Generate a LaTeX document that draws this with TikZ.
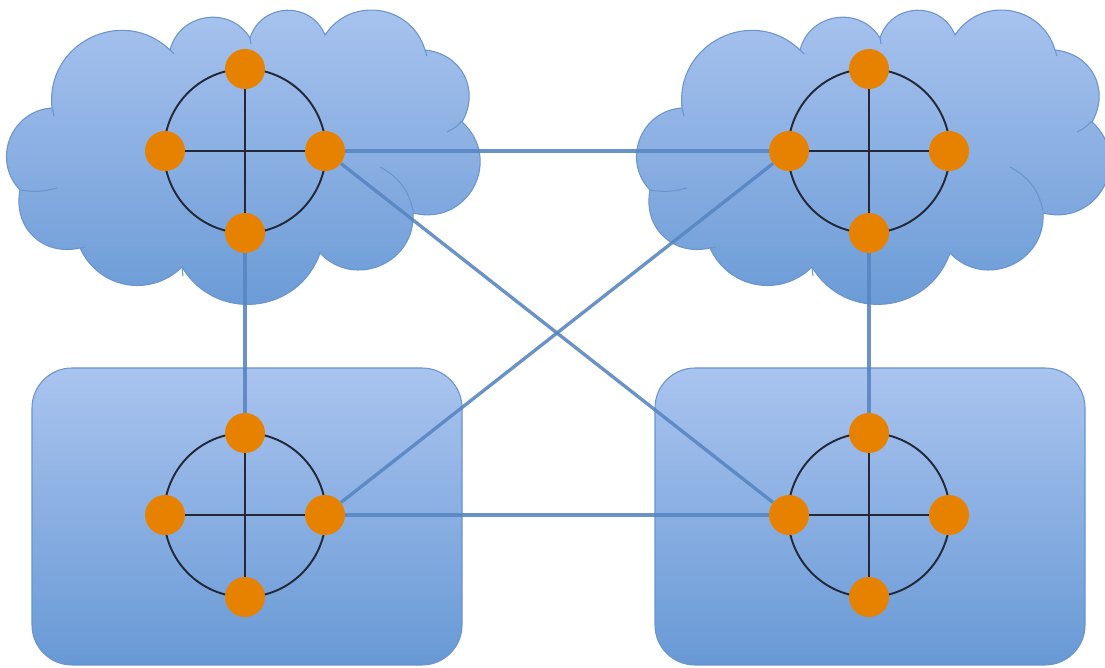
\documentclass[tikz,border=0pt]{standalone}
\pgfdeclarelayer{bg}\pgfdeclarelayer{mid}
\pgfsetlayers{bg,mid,main}
\definecolor{fillTop}{RGB}{170,196,239}
\definecolor{fillBot}{RGB}{104,153,213}
\definecolor{edgeBlue}{RGB}{105,148,206}
\definecolor{linkBlue}{RGB}{88,134,194}
\definecolor{dotOrange}{RGB}{230,130,0}
\definecolor{ringGray}{RGB}{35,40,55}
\tikzset{
  area/.style={draw=edgeBlue, line width=0.6pt, top color=fillTop, bottom color=fillBot},
  crease/.style={draw=edgeBlue, line width=0.6pt},
  dotnode/.style={circle, fill=dotOrange, inner sep=0pt, minimum size=0.8cm},
  ringline/.style={draw=ringGray, line width=1.1pt},
  link/.style={draw=linkBlue, line width=1.9pt, opacity=0.9},
  cloudpic/.pic={
    \path[area] (52,108) to[bend left=70,looseness=1.27] (170,50)
      to[bend left=67,looseness=1.22] (250,38)
      to[bend left=70,looseness=1.27] (325,35)
      to[bend left=65,looseness=1.2] (425,50)
      to[bend left=57,looseness=1.17] (462,122)
      to[bend left=76,looseness=1.4] (413,213)
      to[bend left=70,looseness=1.27] (320,253)
      to[bend left=65,looseness=1.2] (182,267)
      to[bend left=55,looseness=1.1] (80,248)
      to[bend left=57,looseness=1.17] (20,190)
      to[bend left=65,looseness=1.2] (52,108) -- cycle;
    \draw[crease] (20,190) to[bend right=12] (57,188);
    \draw[crease] (413,211) to[bend right=25] (380,167);
    \draw[crease] (462,121) to[bend left=10] (447,132);
    \draw[crease] (170,50) -- (174,54);
    \draw[crease] (250,38) -- (251,44);
    \draw[crease] (425,50) -- (427,56);
    \draw[crease] (52,108) -- (54,116);
    \draw[crease] (182,267) -- (183,276);
    \draw[crease] (80,248) -- (86,247);
  }
}
\newcommand{\hubcluster}[3]{%
  \node[dotnode] (#1t) at (#2,#3-82) {};
  \node[dotnode] (#1b) at (#2,#3+82) {};
  \node[dotnode] (#1l) at (#2-80,#3) {};
  \node[dotnode] (#1r) at (#2+80,#3) {};
  \begin{pgfonlayer}{mid}
    \draw[ringline] (#2,#3) ellipse [x radius=1.62cm, y radius=1.64cm];
    \draw[ringline] (#1t) -- (#1b);
    \draw[ringline] (#1l) -- (#1r);
  \end{pgfonlayer}}
\begin{document}
\begin{tikzpicture}[x=0.02cm,y=-0.02cm]
\useasboundingbox (0,0) rectangle (1105,668);
\begin{pgfonlayer}{bg}
  \pic at (0,0) {cloudpic};
  \pic at (630,0) {cloudpic};
  \draw[area, rounded corners=0.8cm] (32,368) rectangle (462,665);
  \draw[area, rounded corners=0.8cm] (655,368) rectangle (1085,665);
\end{pgfonlayer}
\hubcluster{tl}{245}{151}
\hubcluster{tr}{869}{151}
\hubcluster{bl}{245}{515}
\hubcluster{br}{869}{515}
\begin{pgfonlayer}{mid}
  \draw[link] (tlr) -- (trl);
  \draw[link] (tlr) -- (brl);
  \draw[link] (blr) -- (trl);
  \draw[link] (blr) -- (brl);
  \draw[link] (tlb) -- (blt);
  \draw[link] (trb) -- (brt);
\end{pgfonlayer}
\end{tikzpicture}
\end{document}
